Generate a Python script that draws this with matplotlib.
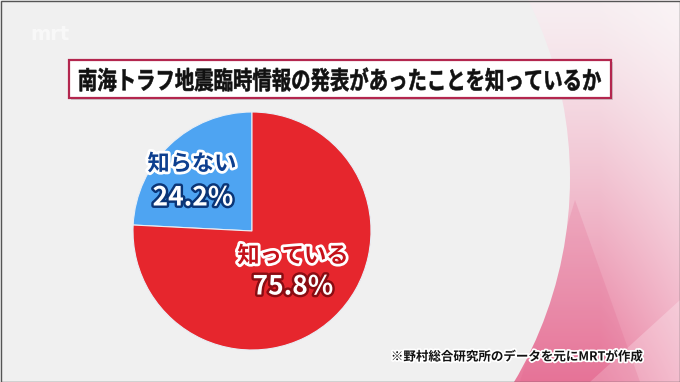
import numpy as np
import matplotlib.pyplot as plt
import matplotlib.patheffects as pe
from matplotlib.patches import Rectangle, Circle, Polygon, PathPatch
from matplotlib.textpath import TextPath
from matplotlib.font_manager import FontProperties
from matplotlib.transforms import Affine2D

plt.rcParams['font.family'] = ['Noto Sans CJK JP', 'DejaVu Sans']

labels = ['知らない', '知っている']
shares = [24.2, 75.8]
colors = ['#4ea4f2', '#e6262d']
title = '南海トラフ地震臨時情報の発表があったことを知っているか'
source = '※野村総合研究所のデータを元にMRTが作成'

fig = plt.figure(figsize=(6.8, 3.82), dpi=100)

# background layer in pixel coordinates
bg = fig.add_axes([0, 0, 1, 1])
yy, xx = np.mgrid[0:382, 0:680]
t = yy / 381
top = np.array([247, 238, 241]) / 255
bot = np.array([232, 120, 155]) / 255
img = top + (bot - top) * (t[..., None] ** 1.3)
s = np.clip((xx - 600) / 80, 0, 1)[..., None] * 0.35
img = img + (1 - img) * s
bg.imshow(img, extent=(0, 680, 382, 0), aspect='auto', zorder=0)
bg.add_patch(Polygon([(590, 382), (680, 300), (680, 382)], fc='white', alpha=0.25, ec='none', zorder=0.5))
bg.add_patch(Polygon([(520, 382), (575, 200), (640, 382)], fc='#e0608a', alpha=0.2, ec='none', zorder=0.5))
bg.add_patch(Circle((170, 178), 400, fc='#f0f0f0', ec='none', zorder=1))
bg.set_xlim(0, 680)
bg.set_ylim(382, 0)
bg.axis('off')

bg.text(50, 34, 'mrt', color='white', alpha=0.6, fontsize=14, weight='bold',
        ha='center', va='center', family='DejaVu Sans', zorder=2)

# title box
bg.add_patch(Rectangle((71, 62), 542, 38, fc='#888888', alpha=0.35, ec='none', zorder=2))
bg.add_patch(Rectangle((69, 60), 542, 38, fc='white', ec='#b3264e', lw=1.6, zorder=3))

# title drawn as a path so it can be squeezed like the condensed broadcast font
tp = TextPath((0, 0), title, size=1, prop=FontProperties(family='Noto Sans CJK JP', weight='bold'))
ext = tp.get_extents()
sx = 522 / ext.width
sy = 24 / ext.height
tr = (Affine2D().translate(-ext.x0 - ext.width / 2, -ext.y0 - ext.height / 2)
      .scale(sx, -sy).translate(340, 79.5))
bg.add_patch(PathPatch(tr.transform_path(tp), fc='#111111', ec='#111111', lw=0.4, zorder=4))

# pie
cx, cy, r = 252, 231, 119
pa = fig.add_axes([(cx - 125) / 680, (382 - cy - 125) / 382, 250 / 680, 250 / 382])
pa.pie(shares, colors=colors, startangle=90, counterclock=True, radius=r, center=(0, 0),
       wedgeprops=dict(edgecolor='#e8eef5', linewidth=0.8))
pa.set_xlim(-125, 125)
pa.set_ylim(-125, 125)
pa.axis('off')

# labels on top of the pie
lab = fig.add_axes([0, 0, 1, 1])
lab.set_xlim(0, 680)
lab.set_ylim(382, 0)
lab.axis('off')

glow = [pe.withStroke(linewidth=4, foreground='white')]
lab.text(192, 164, labels[0], ha='center', va='center', fontsize=16, weight='bold',
         color='#0d3f8f', path_effects=glow)
lab.text(193, 198, f'{shares[0]:.1f}%', ha='center', va='center', fontsize=19, weight='bold',
         color='white', path_effects=[pe.withStroke(linewidth=3.5, foreground='#0a3577')])
lab.text(293, 256, labels[1], ha='center', va='center', fontsize=16, weight='bold',
         color='#c4121a', path_effects=glow)
lab.text(293, 287, f'{shares[1]:.1f}%', ha='center', va='center', fontsize=19, weight='bold',
         color='white', path_effects=[pe.withStroke(linewidth=3.5, foreground='#8a0c12')])

lab.text(517, 357, source, ha='center', va='center', fontsize=9, weight='bold',
         color='#111111', path_effects=[pe.withStroke(linewidth=2.5, foreground='white')])

lab.add_patch(Rectangle((0.5, 0.5), 679, 381, fill=False, ec='#555555', lw=1))

fig.savefig('out.png', dpi=100)
